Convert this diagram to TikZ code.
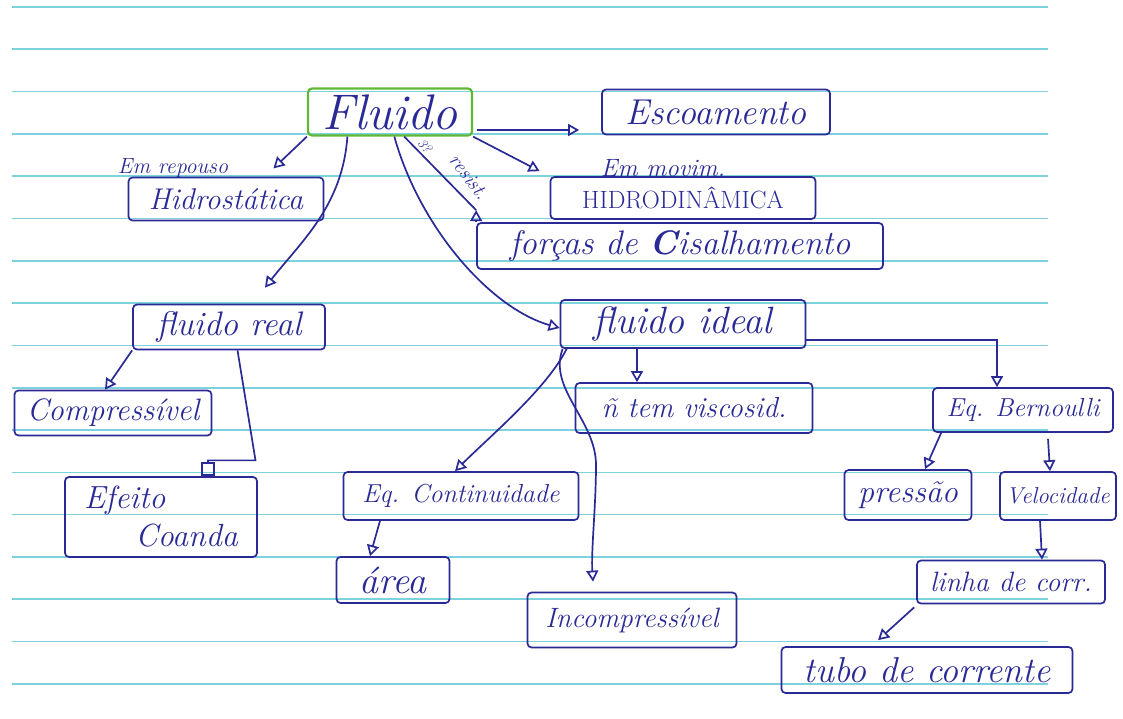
\documentclass[tikz,border=0pt]{standalone}
\usepackage{fontspec}
\usepackage{tikz}
\usetikzlibrary{arrows.meta}
\definecolor{ink}{RGB}{42,42,150}
\definecolor{leaf}{RGB}{95,185,55}
\definecolor{rule}{RGB}{125,210,222}

\begin{document}
\begin{tikzpicture}[
    x=1pt, y=-1pt,
    >={Triangle[open,length=11pt,width=12pt]},
    fs/.style={font=\fontsize{#1}{#1}\selectfont\itshape},
    box/.style={draw=ink,text=ink,line width=1.7pt,rounded corners=4pt,inner sep=0pt},
    sz/.style 2 args={minimum width=#1pt,minimum height=#2pt},
    link/.style={->,draw=ink,line width=1.7pt},
    plug/.style={-{Square[open,length=14pt,width=14pt]},draw=ink,line width=1.7pt},
    note/.style={text=ink,inner sep=0pt},
    paper/.style={rule,line width=1.6pt}
]
\useasboundingbox[fill=white] (0,0) rectangle (1123,719);

% ruled notebook paper
\foreach \k in {0,...,16}
  \draw[paper] (12,{7+42.3*\k}) -- (1048,{7+42.3*\k});

% central concept and first level
\node[box,draw=leaf,line width=2.2pt,sz={164}{47},fs=50] (fluido) at (390,112) {Fluido};
\node[box,sz={228}{45},fs=36] (escoam) at (716,112) {Escoamento};
\node[box,sz={195}{43},fs=30] (hidrost) at (226,199) {Hidrostática};
\node[box,sz={265}{42},fs=25,font=\fontsize{25}{25}\selectfont\upshape] (hidrodin) at (683,198) {HIDRODINÂMICA};
\node[box,sz={406}{46},fs=34] (forcas) at (680,246) {forças de \textbf{C}isalhamento};
\node[box,sz={192}{45},fs=34] (freal) at (229,327) {fluido real};
\node[box,sz={245}{48},fs=38] (fideal) at (683,324) {fluido ideal};

% small labels written above the boxes
\node[note,fs=22] (rep) at (173,168) {Em repouso};
\node[note,fs=25] (mov) at (663,168) {Em movim.};
\node[note,fs=20,rotate=-52] (res) at (469,177) {resist.};
\node[note,fs=14,rotate=-52] (tres) at (425,146) {3?};

% fluido real branch
\node[box,sz={197}{45},fs=31] (compr) at (113,413) {Compressível};
\node[box,sz={192}{80},fs=32,align=left] (efeito) at (161,517) {Efeito\\[6pt]\hspace*{1.6em}Coanda};

% fluido ideal branch
\node[box,sz={237}{50},fs=29] (visc) at (694,408) {ñ tem viscosid.};
\node[box,sz={180}{44},fs=26] (bern) at (1023,410) {Eq. Bernoulli};
\node[box,sz={235}{48},fs=26] (contin) at (461,496) {Eq. Continuidade};
\node[box,sz={113}{46},fs=38] (area) at (393,580) {área};
\node[box,sz={209}{55},fs=28] (incomp) at (632,620) {Incompressível};
\node[box,sz={127}{50},fs=32] (pressao) at (908,495) {pressão};
\node[box,sz={116}{48},fs=23] (veloc) at (1058,496) {Velocidade};
\node[box,sz={188}{43},fs=28] (linha) at (1011,582) {linha de corr.};
\node[box,sz={291}{46},fs=36] (tubo) at (927,670) {tubo de corrente};

% connectors from Fluido
\draw[link,shorten <=4pt,shorten >=22pt] ([yshift=-18pt]fluido.east) -- ([yshift=-18pt]escoam.west);
\draw[link,shorten >=12pt] (fluido.south west) -- (hidrost.30);
\draw[link] (fluido.-150) .. controls +(-5,70) and +(35,-45) .. ([xshift=36pt,yshift=16pt]freal.north);
\draw[link] (fluido.-80) .. controls +(25,90) and +(-70,-20) .. ([yshift=-4pt]fideal.west);
\draw[link] (fluido.south east) -- ([xshift=-10pt,yshift=5pt]hidrodin.north west);
\coordinate (jres) at ([yshift=12pt]forcas.north west);
\draw[draw=ink,line width=1.7pt] (fluido.-60) -- (jres);
\draw[link] (forcas.north west) -- (jres);

% connectors from fluido real
\draw[link] (freal.south west) -- ([xshift=-8pt]compr.north);
\draw[plug] (freal.-70) -- ++(18,110) -| ([xshift=47pt]efeito.north);

% connectors from fluido ideal
\draw[link] ([xshift=-46pt]fideal.south) -- ([xshift=-57pt]visc.north);
\draw[link] ([yshift=-16pt]fideal.east) -| ([xshift=-26pt]bern.north);
\draw[link] ([xshift=7pt]fideal.south west) .. controls +(-20,40) and +(35,-35) .. ([xshift=-6pt]contin.north);
\draw[link] ([xshift=3pt]fideal.south west) .. controls +(-15,40) and +(0,-45) .. (596,465)
  .. controls +(0,40) and +(-2,-30) .. ([xshift=-39pt,yshift=10pt]incomp.north);

% lower levels
\draw[link] ([xshift=-81pt]contin.south) -- ([xshift=-23pt]area.north);
\draw[link] ([xshift=9pt]bern.south west) -- ([xshift=17pt]pressao.north);
\draw[link] ([xshift=25pt,yshift=-6pt]bern.south) -- ([xshift=-8pt]veloc.north);
\draw[link] ([xshift=-18pt]veloc.south) -- ([xshift=31pt]linha.north);
\draw[link] ([xshift=-2pt,yshift=-3pt]linha.south west) -- ([xshift=-49pt,yshift=6pt]tubo.north);
\end{tikzpicture}
\end{document}
